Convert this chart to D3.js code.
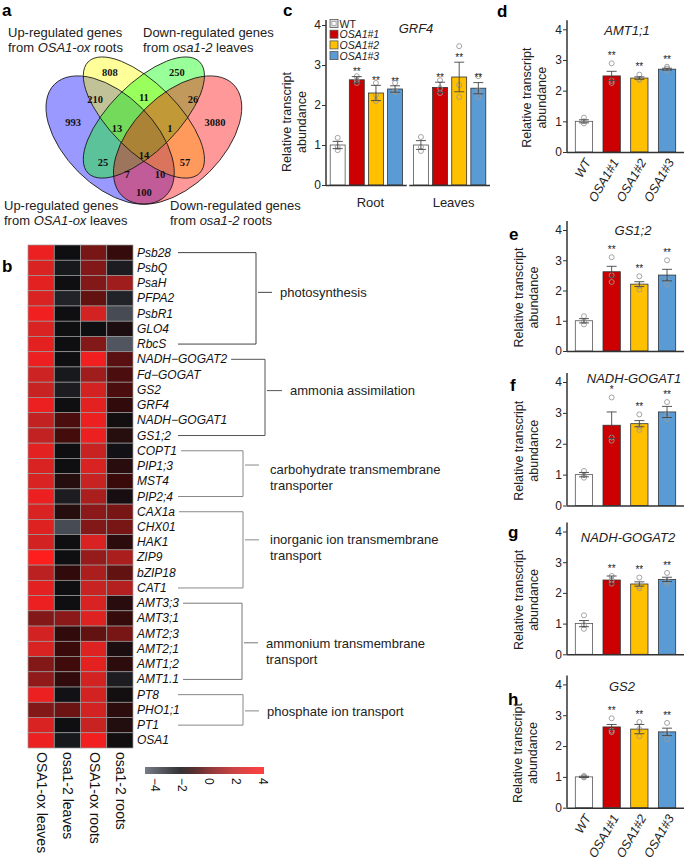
<!DOCTYPE html>
<html><head><meta charset="utf-8">
<script src="https://cdn.jsdelivr.net/npm/d3@7"></script>
<style>
body{margin:0;background:#fff}
text{font-family:"Liberation Sans",Arial,Helvetica,sans-serif;fill:#222}
</style>
</head><body>
<svg id="fig" width="685" height="862"></svg>
<script>
// ---------------- DATA ----------------
// Panel a : Venn
const vennSetNames = ["Up-regulated genes|from OSA1-ox leaves","Up-regulated genes|from OSA1-ox roots","Down-regulated genes|from osa1-2 leaves","Down-regulated genes|from osa1-2 roots"];
const vennSetColors = ["#0000ff","#ffff00","#00ff00","#ff0000"];
const vennRegions = ["Y","G","BY","YG","GR","B","BYG","YGR","R","BG","BYGR","YR","BGR","BYR","BR"];
const vennCounts  = [808,250,210,11,26,993,13,1,3080,25,14,57,7,10,100];

// Panel b : heatmap
const hmGenes = ["Psb28","PsbQ","PsaH","PFPA2","PsbR1","GLO4","RbcS","NADH\u2212GOGAT2","Fd\u2212GOGAT","GS2","GRF4","NADH\u2212GOGAT1","GS1;2","COPT1","PIP1;3","MST4","PIP2;4","CAX1a","CHX01","HAK1","ZIP9","bZIP18","CAT1","AMT3;3","AMT3;1","AMT2;3","AMT2;1","AMT1;2","AMT1.1","PT8","PHO1;1","PT1","OSA1"];
const hmColumns = ["OSA1-ox leaves","osa1-2 leaves","OSA1-ox roots","osa1-2 roots"];
const hmOxLeaves  = [3.3,2.6,3.0,2.6,3.5,2.6,3.0,3.3,2.2,2.0,3.3,1.85,1.85,3.0,2.6,2.6,3.3,2.6,2.8,2.4,4.0,1.7,3.0,3.3,0.25,2.4,2.6,0.25,0.6,3.3,0.25,2.6,3.3];
const hmMutLeaves = [-2.2,-2.5,-2.2,-2.8,-2.2,-2.2,-2.2,-2.2,-2.5,-2.6,-2.2,-0.75,-0.85,-2.2,-2.2,-1.6,-2.6,-1.6,-4.0,-2.2,-2.2,-1.3,-2.2,-2.2,0.5,-1.3,-1.05,-0.9,-1.3,-2.3,-0.2,-2.2,-2.5];
const hmOxRoots   = [0,0.25,0.25,-0.35,2.4,-2.2,0.25,3.5,1.0,2.4,3.0,3.3,3.3,2.0,2.6,2.0,1.25,0.5,0.25,2.6,0.75,1.25,2.0,2.6,2.8,-0.35,2.8,3.0,2.4,2.4,2.4,2.0,3.5];
const hmMutRoots  = [-1.2,-2.6,1.0,-2.8,-4.0,-1.85,-4.3,-0.5,-0.75,-0.75,-1.3,-2.1,-1.6,-2.3,-1.5,-1.05,-2.0,0,0,-1.4,1.25,-0.35,1.5,-1.5,-1.2,0,-1.85,-1.4,-2.6,-2.1,-1.4,-1.7,-2.1];
const hmGroupNames = ["photosynthesis","ammonia assimilation","carbohydrate transmembrane|transporter","inorganic ion transmembrane|transport","ammonium transmembrane|transport","phosphate ion transport"];
const hmGroupFirst = ["Psb28","NADH\u2212GOGAT2","COPT1","CAX1a","AMT3;3","PT8"];
const hmGroupLast  = ["RbcS","GS1;2","PIP2;4","CAT1","AMT1.1","PT1"];
const hmLegendTicks = [-4,-2,0,2,4];

// Panels c-h : qRT-PCR
const genotypes = ["WT","OSA1#1","OSA1#2","OSA1#3"];
const genoColors = ["#ffffff","#cc0000","#ffc000","#5b9bd5"];
const grf4Groups = ["Root","Leaves"];
const grf4RootMean = [1.00,2.63,2.30,2.40];
const grf4RootSE   = [0.09,0.08,0.19,0.08];
const grf4RootPts  = [[1.18,0.95,0.87],[2.72,2.62,2.55],[2.55,2.25,2.10],[2.55,2.35,2.32]];
const grf4LeafMean = [1.00,2.44,2.70,2.42];
const grf4LeafSE   = [0.11,0.13,0.37,0.14];
const grf4LeafPts  = [[1.20,0.95,0.85],[2.62,2.42,2.30],[3.47,2.50,2.20],[2.72,2.35,2.20]];
const grf4Stars    = ["","**","**","**"];

const qGenes = ["AMT1;1","GS1;2","NADH-GOGAT1","NADH-GOGAT2","GS2"];
const qMeans = [[1.00,2.48,2.41,2.70],[1.00,2.62,2.21,2.51],[1.00,2.60,2.65,3.03],[1.00,2.42,2.29,2.44],[1.00,2.62,2.55,2.46]];
const qSE    = [[0.05,0.15,0.04,0.03],[0.07,0.18,0.08,0.19],[0.07,0.43,0.10,0.18],[0.10,0.13,0.07,0.07],[0.02,0.08,0.15,0.12]];
const qPts   = [
  [[1.12,1.00,0.93],[2.89,2.32,2.25],[2.52,2.38,2.35],[2.78,2.72,2.65]],
  [[1.15,0.98,0.88],[3.10,2.50,2.28],[2.47,2.15,2.03],[3.00,2.35,2.20]],
  [[1.12,0.98,0.90],[3.50,2.20,2.10],[2.95,2.55,2.45],[3.35,2.95,2.80]],
  [[1.27,0.95,0.83],[2.55,2.42,2.30],[2.50,2.22,2.15],[2.65,2.38,2.30]],
  [[1.03,1.00,0.98],[2.90,2.50,2.45],[2.78,2.55,2.32],[2.75,2.40,2.23]]];
const qStars = [["","**","**","**"],["","**","**","**"],["","*","**","**"],["","**","**","**"],["","**","**","**"]];
const yTicks = [0,1,2,3,4];

// ---------------- DRAW ----------------
const svg = d3.select("#fig");
function letter(t,x,y){svg.append("text").attr("x",x).attr("y",y).attr("font-size",17).attr("font-weight","bold").style("fill","#000").text(t);}

// ===== Panel a =====
letter("a",2,16);
const vx = d3.scaleLinear().domain([0,1]).range([46-0.065*225, 46+0.935*225]);
const vy = d3.scaleLinear().domain([0,1]).range([57+0.839*225, 57-0.161*225]);
const U = 225;
const ellipses = [
  {cx:0.35,cy:0.47,a:0.35,b:0.20,rot:45},
  {cx:0.50,cy:0.57,a:0.35,b:0.15,rot:45},
  {cx:0.50,cy:0.57,a:0.35,b:0.15,rot:-45},
  {cx:0.65,cy:0.47,a:0.35,b:0.20,rot:-45}];
const gA = svg.append("g");
ellipses.forEach((e,i)=>{
  gA.append("ellipse").attr("transform",`translate(${vx(e.cx)},${vy(e.cy)}) rotate(${e.rot})`)
    .attr("rx",e.a*U).attr("ry",e.b*U).attr("fill",vennSetColors[i]).attr("fill-opacity",0.4).attr("stroke","none");
});
ellipses.forEach((e,i)=>{
  gA.append("ellipse").attr("transform",`translate(${vx(e.cx)},${vy(e.cy)}) rotate(${e.rot})`)
    .attr("rx",e.a*U).attr("ry",e.b*U).attr("fill","none").attr("stroke","#111").attr("stroke-width",0.8);
});
const vennLabelPos = {Y:[0.349,0.768],G:[0.647,0.768],BY:[0.283,0.648],YG:[0.5,0.661],GR:[0.718,0.648],B:[0.185,0.546],BYG:[0.381,0.523],YGR:[0.616,0.523],R:[0.816,0.546],BG:[0.318,0.372],BYGR:[0.5,0.403],YR:[0.683,0.372],BGR:[0.425,0.315],BYR:[0.572,0.315],BR:[0.5,0.235]};
vennRegions.forEach((r,i)=>{
  const p = vennLabelPos[r];
  gA.append("text").attr("x",vx(p[0])).attr("y",vy(p[1])).attr("text-anchor","middle").attr("dominant-baseline","central")
    .style("font-family","'Liberation Serif','Times New Roman',serif")
    .attr("font-weight","bold").attr("font-size",10.5).style("fill","#111").text(vennCounts[i]);
});
function richLine(g,x,y,str,size){
  const t = g.append("text").attr("x",x).attr("y",y).attr("font-size",size);
  const m = str.match(/^(.*?)(OSA1-ox|osa1-2)(.*)$/);
  if(m){ t.append("tspan").text(m[1]); t.append("tspan").attr("font-style","italic").text(m[2]); t.append("tspan").text(m[3]); }
  else t.text(str);
}
const vennLabelXY = [[4,209.5],[8,36.5],[143,36.5],[170,209.5]];
vennSetNames.forEach((s,i)=>{
  s.split("|").forEach((l,j)=>richLine(gA,vennLabelXY[i][0],vennLabelXY[i][1]+j*15.5,l,13));
});

// ===== Panel b =====
letter("b",2,272);
const hmCols = [hmOxLeaves,hmMutLeaves,hmOxRoots,hmMutRoots];
const rowS = d3.scaleBand().domain(hmGenes).range([245,748]);
const colS = d3.scaleBand().domain(hmColumns).range([28,133]);
const heatColor = d3.scaleLinear().domain([-4.75,-2.2,-1,0,2,4])
  .range(["#5f6470","#0f0f12","#3c0a0a","#781616","#c82323","#ff1e1e"]).clamp(true);
const gB = svg.append("g");
hmColumns.forEach((c,ci)=>{
  hmGenes.forEach((gname,ri)=>{
    gB.append("rect").attr("x",colS(c)).attr("y",rowS(gname)).attr("width",colS.bandwidth()).attr("height",rowS.bandwidth())
      .attr("fill",heatColor(hmCols[ci][ri])).attr("stroke","#9a9a9a").attr("stroke-width",0.7);
  });
});
const labelEnds = {};
hmGenes.forEach(gname=>{
  const t = gB.append("text").attr("x",137).attr("y",rowS(gname)+rowS.bandwidth()/2).attr("dominant-baseline","central")
    .attr("font-size",12).attr("font-style","italic").style("fill","#111").text(gname);
  labelEnds[gname] = 137 + t.node().getComputedTextLength();
});
hmColumns.forEach(c=>{
  gB.append("text").attr("transform",`translate(${colS(c)+colS.bandwidth()/2+1},752) rotate(90)`)
    .attr("dominant-baseline","central").attr("font-size",14).style("fill","#111").text(c);
});
const brVX = [256,265,243,243,242,243];
const brTick = [16,17,16,16,16,16];
const brTextX = [280,290,270,270,266,267];
const brDy = [-6,-6.8,-8.6,-10,1.5,1];
const brTextDy = [0,0,4,0,1,1];
const brColor = ["#444","#555","#888","#888","#777","#888"];
hmGroupNames.forEach((name,i)=>{
  const y1 = rowS(hmGroupFirst[i])+rowS.bandwidth()/2, y2 = rowS(hmGroupLast[i])+rowS.bandwidth()/2;
  const x1 = Math.max(labelEnds[hmGroupFirst[i]]+4,178), x2 = Math.max(labelEnds[hmGroupLast[i]]+4,178);
  const vxp = brVX[i];
  gB.append("path").attr("d",`M${x1},${y1}H${vxp}V${y2}H${x2}`).attr("fill","none").attr("stroke",brColor[i]).attr("stroke-width",1);
  const ty = (y1+y2)/2 + brDy[i];
  gB.append("line").attr("x1",vxp+2).attr("x2",vxp+brTick[i]).attr("y1",ty).attr("y2",ty).attr("stroke",brColor[i]).attr("stroke-width",1);
  name.split("|").forEach((l,j)=>{
    gB.append("text").attr("x",brTextX[i]).attr("y",ty+brTextDy[i]+j*16).attr("dominant-baseline","central").attr("font-size",13).style("fill","#222").text(l);
  });
});
const keyX = d3.scaleLinear().domain([-4,4]).range([155.4,262.6]);
const defs = svg.append("defs");
const grad = defs.append("linearGradient").attr("id","hmgrad");
const kMin = keyX.invert(145), kMax = keyX.invert(264);
d3.range(0,1.0001,0.05).forEach(t=>{
  grad.append("stop").attr("offset",t).attr("stop-color",heatColor(kMin+t*(kMax-kMin)));
});
gB.append("rect").attr("x",145).attr("y",767).attr("width",119).attr("height",7).attr("fill","url(#hmgrad)").attr("opacity",0.85);
hmLegendTicks.forEach(v=>{
  gB.append("text").attr("transform",`translate(${keyX(v)},778) rotate(90)`).attr("dominant-baseline","central")
    .attr("font-size",12).style("fill","#111").text(v<0?"\u2212"+Math.abs(v):v);
});

// ===== Bar helpers =====
function yAxis(g,y,x0,top){
  const ax = g.append("g").attr("transform",`translate(${x0},0)`)
    .call(d3.axisLeft(y).tickValues(yTicks).tickSize(4).tickPadding(1).tickFormat(d3.format("d")));
  ax.select(".domain").remove();
  ax.selectAll(".tick line").attr("stroke","#333");
  ax.selectAll(".tick text").attr("font-size",12).style("fill","#222").style("font-family","'Liberation Sans',Arial,sans-serif");
  g.append("line").attr("x1",x0).attr("x2",x0).attr("y1",y(0)).attr("y2",top).attr("stroke","#333").attr("stroke-width",1.5);
}
function bars(g,xs,y,means,se,pts,stars,starMode){
  genotypes.forEach((gt,i)=>{
    const cx = xs(gt)+xs.bandwidth()/2;
    g.append("rect").attr("x",xs(gt)).attr("y",y(means[i])).attr("width",xs.bandwidth()).attr("height",y(0)-y(means[i]))
      .attr("fill",genoColors[i]).attr("stroke",i===0?"#555":"#333").attr("stroke-width",0.8);
    pts[i].forEach(p=>{
      g.append("circle").attr("cx",cx).attr("cy",y(p)).attr("r",2.5).attr("fill","none").attr("stroke","#9a9a9a").attr("stroke-width",0.9);
    });
    const hi = y(means[i]+se[i]), lo = y(means[i]-se[i]);
    g.append("path").attr("d",`M${cx},${lo}V${hi}M${cx-5},${hi}H${cx+5}M${cx-5},${lo}H${cx+5}`)
      .attr("stroke","#444").attr("stroke-width",0.9).attr("fill","none");
    if(stars[i]){
      let sy = starMode==="err" ? hi-7 : Math.min(hi, y(d3.max(pts[i]))-3)-7;
      g.append("text").attr("x",cx).attr("y",sy+5.8).attr("text-anchor","middle").attr("font-size",10).style("fill","#222").text(stars[i]);
    }
  });
}
function yLabel(g,xs,cy){
  ["Relative transcript","abundance"].forEach((l,j)=>{
    g.append("text").attr("transform",`translate(${xs[j]},${cy}) rotate(-90)`).attr("text-anchor","middle")
      .attr("dominant-baseline","central").attr("font-size",12.5).style("fill","#222").text(l);
  });
}

// ===== Panel c =====
letter("c",283,16);
const gC = svg.append("g");
const yC = d3.scaleLinear().domain([0,4]).range([185,25]);
const xGroup = d3.scaleBand().domain(grf4Groups).range([326,490]).paddingInner(0.03);
const grf4Means=[grf4RootMean,grf4LeafMean], grf4SEs=[grf4RootSE,grf4LeafSE], grf4P=[grf4RootPts,grf4LeafPts];
grf4Groups.forEach((grp,k)=>{
  const off = xGroup(grp);
  const xs = d3.scaleBand().domain(genotypes).range([off, off+xGroup.bandwidth()]).paddingInner(0.22).paddingOuter(0.22);
  bars(gC,xs,yC,grf4Means[k],grf4SEs[k],grf4P[k],grf4Stars,"err");
  gC.append("line").attr("x1",off).attr("x2",off+xGroup.bandwidth()).attr("y1",yC(0)+0.5).attr("y2",yC(0)+0.5).attr("stroke","#333").attr("stroke-width",1.5);
  gC.append("text").attr("x",off+xGroup.bandwidth()/2+4).attr("y",206.5).attr("text-anchor","middle").attr("font-size",13).style("fill","#222").text(grp);
});
yAxis(gC,yC,326,20);
yLabel(gC,[287,302],122);
gC.append("text").attr("x",416).attr("y",32.5).attr("text-anchor","middle").attr("font-size",13).attr("font-style","italic").style("fill","#222").text("GRF4");
genotypes.forEach((gt,i)=>{
  const ly = 23.5+i*10.7;
  gC.append("rect").attr("x",330).attr("y",ly-4).attr("width",8).attr("height",8).attr("fill",i===0?"#ddd":genoColors[i]).attr("stroke","#555").attr("stroke-width",0.8);
  if(i===0) gC.append("rect").attr("x",332).attr("y",ly-2).attr("width",4).attr("height",4).attr("fill","#fff").attr("stroke","#777").attr("stroke-width",0.5);
  gC.append("text").attr("x",339.5).attr("y",ly).attr("dominant-baseline","central").attr("font-size",10.5)
    .attr("font-style",i===0?"normal":"italic").style("fill","#222").text(gt);
});

// ===== Panels d-h =====
const qLetters = ["d","e","f","g","h"];
const qLetterXY = [[497,17],[509,240],[510,391],[508,538],[508,705]];
const qYRange = [[152,29.3],[351,230],[505.5,382],[654.3,531.5],[807.7,684.4]];
const qTitleXY = [[627,35],[633,234.5],[634,382.5],[628,541.5],[622,691]];
const qYLabX = [[527,542],[519,534],[519,534],[519,534],[518,533]];
const xQ = d3.scaleBand().domain(genotypes).range([567,684]).paddingInner(0.375).paddingOuter(0.3);
qGenes.forEach((gene,k)=>{
  letter(qLetters[k],qLetterXY[k][0],qLetterXY[k][1]);
  const g = svg.append("g");
  const y = d3.scaleLinear().domain([0,4]).range(qYRange[k]);
  bars(g,xQ,y,qMeans[k],qSE[k],qPts[k],qStars[k],"max");
  g.append("line").attr("x1",567).attr("x2",684).attr("y1",y(0)+0.5).attr("y2",y(0)+0.5).attr("stroke","#333").attr("stroke-width",1.5);
  yAxis(g,y,567,y(4)-9);
  yLabel(g,qYLabX[k],(y(0)+y(4))/2+7);
  g.append("text").attr("x",qTitleXY[k][0]).attr("y",qTitleXY[k][1]).attr("text-anchor","middle").attr("font-size",13)
    .attr("font-style","italic").style("fill","#222").text(gene);
  if(k===0||k===4){
    genotypes.forEach(gt=>{
      const cx = xQ(gt)+xQ.bandwidth()/2;
      g.append("text").attr("transform",`translate(${cx+4},${y(0)+8}) rotate(-60)`).attr("text-anchor","end")
        .attr("dominant-baseline","central").attr("font-size",12.5).attr("font-style","italic").style("fill","#222").text(gt);
    });
  }
});
</script>
</body></html>
